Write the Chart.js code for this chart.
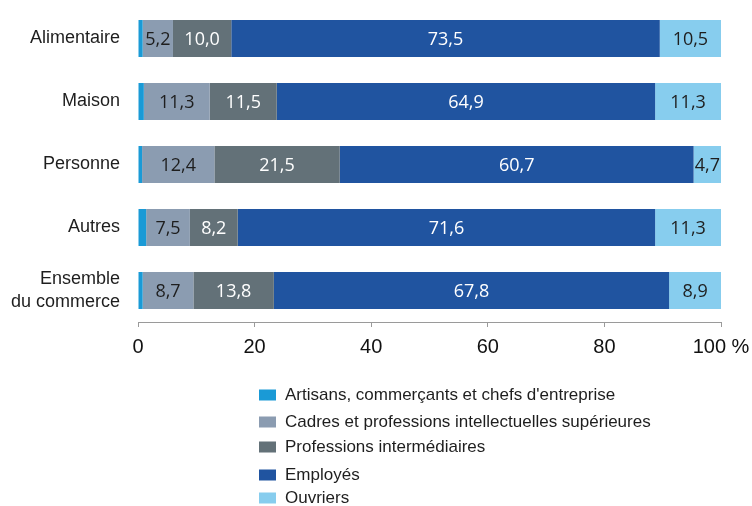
<!DOCTYPE html>
<html>
<head>
<meta charset="utf-8">
<script src="https://cdn.jsdelivr.net/npm/chart.js@4.4.1/dist/chart.umd.min.js"></script>
<style>
html,body{margin:0;padding:0;background:#fff;}
#wrap{width:752px;height:506px;position:relative;}
</style>
</head>
<body>
<div id="wrap"><canvas id="c" width="752" height="506"></canvas></div>
<script>
const categories = ['Alimentaire', 'Maison', 'Personne', 'Autres', ['Ensemble', 'du commerce']];
const seriesNames = [
  'Artisans, commerçants et chefs d\'entreprise',
  'Cadres et professions intellectuelles supérieures',
  'Professions intermédiaires',
  'Employés',
  'Ouvriers'
];
const artisans = [0.8, 1.0, 0.7, 1.4, 0.8];
const cadres = [5.2, 11.3, 12.4, 7.5, 8.7];
const intermediaires = [10.0, 11.5, 21.5, 8.2, 13.8];
const employes = [73.5, 64.9, 60.7, 71.6, 67.8];
const ouvriers = [10.5, 11.3, 4.7, 11.3, 8.9];
const xTicks = [0, 20, 40, 60, 80, 100];

const colors = ['#1a9ad6', '#8b9cb1', '#637178', '#2054a0', '#87cdee'];
const labelColors = [null, '#1e1e1e', '#ffffff', '#ffffff', '#1e1e1e'];
const seriesValues = [artisans, cadres, intermediaires, employes, ouvriers];

const datasets = seriesValues.map((vals, i) => ({
  label: seriesNames[i],
  data: vals,
  backgroundColor: colors[i],
  borderWidth: 0,
  barPercentage: 0.587,
  categoryPercentage: 1.0,
  labelColor: labelColors[i]
}));

const fmt = v => v.toFixed(1).replace('.', ',');

const valueLabels = {
  id: 'valueLabels',
  afterDatasetsDraw(chart) {
    const ctx = chart.ctx;
    ctx.save();
    ctx.font = '18px "Open Sans"';
    ctx.textAlign = 'center';
    ctx.textBaseline = 'middle';
    chart.data.datasets.forEach((ds, i) => {
      if (!ds.labelColor) return;
      const meta = chart.getDatasetMeta(i);
      meta.data.forEach((bar, j) => {
        const p = bar.getProps(['x', 'y', 'base'], true);
        ctx.fillStyle = ds.labelColor;
        ctx.fillText(fmt(ds.data[j]), (p.x + p.base) / 2, p.y + 1);
      });
    });
    ctx.restore();
  }
};

const customLegend = {
  id: 'customLegend',
  afterDraw(chart) {
    const ctx = chart.ctx;
    const rows = [395, 422, 447, 475, 498];
    ctx.save();
    ctx.font = '17px "Liberation Sans"';
    ctx.textBaseline = 'middle';
    ctx.textAlign = 'left';
    chart.data.datasets.forEach((ds, i) => {
      const y = rows[i];
      ctx.fillStyle = ds.backgroundColor;
      ctx.fillRect(259, y - 5.5, 17, 11);
      ctx.fillStyle = '#1e1e1e';
      ctx.fillText(ds.label, 285, y);
    });
    ctx.restore();
  }
};

new Chart(document.getElementById('c'), {
  type: 'bar',
  data: { labels: categories, datasets },
  options: {
    indexAxis: 'y',
    responsive: false,
    animation: false,
    events: [],
    layout: { padding: { top: 7, bottom: 144, right: 31, left: 0 } },
    plugins: { legend: { display: false }, tooltip: { enabled: false } },
    scales: {
      x: {
        stacked: true,
        min: 0,
        max: 100,
        afterBuildTicks(scale) { scale.ticks = xTicks.map(v => ({ value: v })); },
        afterFit(scale) { scale.height = 40; scale.paddingLeft = 0; scale.paddingRight = 0; },
        border: { display: true, color: '#9a9a9a', width: 1 },
        grid: { display: true, drawOnChartArea: false, drawTicks: true, tickLength: 5, color: '#9a9a9a' },
        ticks: {
          padding: 8,
          color: '#111',
          font: { family: '"Liberation Sans"', size: 20 },
          maxRotation: 0,
          callback: v => (v === 100 ? '100 %' : String(v))
        }
      },
      y: {
        stacked: true,
        afterFit(scale) { scale.width = 138; scale.paddingTop = 0; scale.paddingBottom = 0; },
        border: { display: false },
        grid: { display: false, drawTicks: false },
        ticks: {
          padding: 18,
          color: '#1e1e1e',
          font: { family: '"Liberation Sans"', size: 18, lineHeight: 1.3 }
        }
      }
    }
  },
  plugins: [valueLabels, customLegend]
});
</script>
</body>
</html>
